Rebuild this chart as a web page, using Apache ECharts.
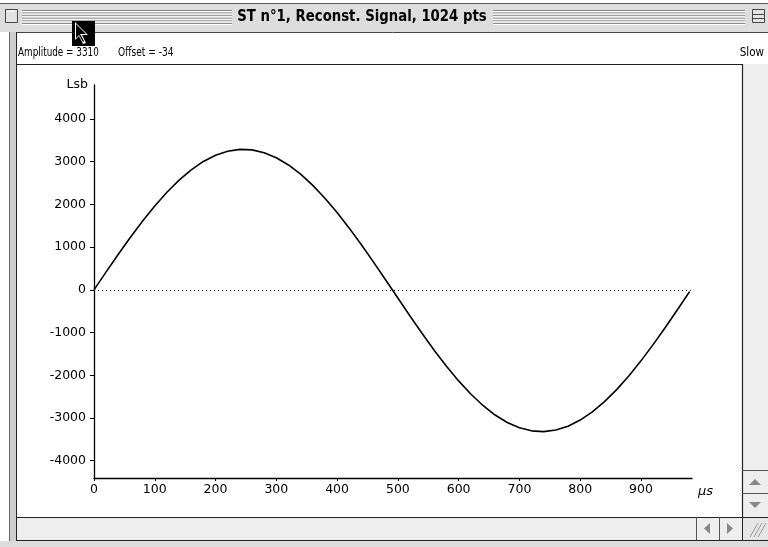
<!DOCTYPE html>
<html>
<head>
<meta charset="utf-8">
<script src="https://cdn.jsdelivr.net/npm/echarts@6/dist/echarts.min.js"></script>
<style>
html,body{margin:0;padding:0;background:#fff;}
#chart{width:768px;height:547px;}
</style>
</head>
<body>
<div id="chart"></div>
<script>
// ---- data ----
const timeUs = [0,20,40,60,80,100,120,140,160,180,200,220,240,260,280,300,320,340,360,380,
  400,420,440,460,480,500,520,540,560,580,600,620,640,660,680,700,720,740,760,780,
  800,820,840,860,880,900,920,940,960,980];
const signalLsb = [0,420,833,1232,1611,1964,2285,2568,2810,3005,3151,3246,3288,3276,3210,3092,2923,2707,2446,2144,
  1809,1444,1055,648,231,-191,-612,-1024,-1419,-1791,-2132,-2439,-2707,-2931,-3106,-3230,-3301,-3319,-3282,-3192,
  -3049,-2857,-2617,-2336,-2016,-1663,-1283,-882,-465,-42];
const xTickValues = [0,100,200,300,400,500,600,700,800,900];
const yTickValues = [-4000,-3000,-2000,-1000,0,1000,2000,3000,4000];
const zeroLineEnd = 982;
const titleText = 'ST n°1, Reconst. Signal, 1024 pts';
const amplitudeText = 'Amplitude = 3310';
const offsetText = 'Offset = -34';
const modeText = 'Slow';

const AX = '"DejaVu Sans", sans-serif';
const UI = '"DejaVu Sans", sans-serif';

// ---- window chrome (drawn with graphic elements) ----
const g = [];
function rect(x,y,w,h,fill,stroke,lw){g.push({type:'rect',shape:{x:x,y:y,width:w,height:h},style:{fill:fill||'none',stroke:stroke||null,lineWidth:lw||1},silent:true});}
function line(x1,y1,x2,y2,c,w){g.push({type:'line',shape:{x1:x1,y1:y1,x2:x2,y2:y2},style:{stroke:c,lineWidth:w||1},silent:true});}
function poly(pts,fill){g.push({type:'polygon',shape:{points:pts},style:{fill:fill},silent:true});}
function txt(x,y,t,font,align,va,sx){g.push({type:'text',x:x,y:y,scaleX:sx||1,originX:0,originY:0,style:{text:t,font:font,fill:'#000',textAlign:align||'left',textVerticalAlign:va||'middle'},silent:true});}

// title bar
rect(0,3,768,29,'#dddddd');
line(0,3.5,768,3.5,'#555',1);
for(let i=0;i<6;i++){
  const y=10.5+i*2.6;
  line(22,y,232,y,'#8a8a8a',1);
  line(22,y+1,232,y+1,'#ffffff',1);
  line(493,y,745,y,'#8a8a8a',1);
  line(493,y+1,745,y+1,'#ffffff',1);
}
rect(5.5,9.5,12,13,'#e4e4e4','#444',1);
line(7,11,15,11,'#fff',1);
rect(752.5,9.5,12,13,'#e4e4e4','#444',1);
line(753,14.5,764,14.5,'#444',1);
line(753,18.5,764,18.5,'#444',1);
txt(362,17,titleText,'bold 16px '+UI,'center','middle',0.83);

// window body frame
rect(9,32,8,509,'#cfcfcf');
line(9.5,32,9.5,541,'#666',1);
line(16.5,32,16.5,541,'#222',1);
rect(17,32,751,32,'#ffffff');
line(17,32.5,768,32.5,'#444',1);
line(17,64.5,742,64.5,'#222',1.2);
txt(18,53,amplitudeText,'13px '+UI,'left','middle',0.68);
txt(118,53,offsetText,'13px '+UI,'left','middle',0.7);
txt(764,53,modeText,'13px '+UI,'right','middle',0.8);

// right scrollbar
rect(742,64,26,453,'#eeeeee');
line(742.5,64,742.5,541,'#222',1.2);
line(742,470.5,768,470.5,'#555',1);
line(742,493.5,768,493.5,'#555',1);
poly([[749,485],[755,479],[761,485]],'#888');
poly([[749,502],[755,508],[761,502]],'#888');
// bottom scrollbar
rect(17,517,725,23,'#eeeeee');
line(17,517.5,768,517.5,'#222',1.2);
line(17,540.5,768,540.5,'#222',1.2);
line(696.5,517,696.5,540,'#555',1);
line(719.5,517,719.5,540,'#555',1);
poly([[710,523],[704,528.5],[710,534]],'#888');
poly([[727,523],[733,528.5],[727,534]],'#888');
// grow box
rect(743,518,25,22,'#e6e6e6');
for(let k=0;k<3;k++){
  line(750+k*4,537,758+k*4,523,'#999',1);
}
rect(0,541,768,6,'#dcdcdc');
// mouse cursor (drawn last, on top)
rect(72,21,23,25,'#000');
poly([[75,22],[75,40],[79,36],[83,44],[86,43],[82,35],[88,35]],'#fff');
poly([[76,24],[76,38],[79,35],[83,42],[84,41],[80,34],[86,34]],'#000');

const plain = v => String(v);

const chart = echarts.init(document.getElementById('chart'), null, {renderer:'canvas'});
chart.setOption({
  backgroundColor:'#ffffff',
  animation:false,
  graphic:{elements:g},
  grid:{left:94,right:76,top:85,bottom:69,containLabel:false},
  xAxis:{
    type:'value',min:0,max:984,
    name:'µs',nameLocation:'end',nameGap:6,
    nameTextStyle:{fontStyle:'italic',fontSize:13,fontFamily:AX,color:'#000',verticalAlign:'top',padding:[7,0,0,0]},
    axisLine:{onZero:false,lineStyle:{color:'#000',width:1.3}},
    axisTick:{show:true,customValues:xTickValues,length:3,lineStyle:{color:'#000',width:1}},
    axisLabel:{customValues:xTickValues,formatter:plain,color:'#000',fontSize:12.5,fontFamily:AX,margin:5},
    splitLine:{show:false}
  },
  yAxis:{
    type:'value',min:-4405,max:4795,
    name:'Lsb',nameLocation:'end',nameGap:0,
    nameTextStyle:{fontSize:12.5,fontFamily:AX,color:'#000',align:'right',verticalAlign:'middle',padding:[6,6,0,0]},
    axisLine:{onZero:false,lineStyle:{color:'#000',width:1.3}},
    axisTick:{show:true,customValues:yTickValues,length:4,lineStyle:{color:'#000',width:1}},
    axisLabel:{customValues:yTickValues,formatter:plain,color:'#000',fontSize:12.5,fontFamily:AX,margin:8},
    splitLine:{show:false}
  },
  series:[{
    type:'line',
    data:timeUs.map((t,i)=>[t,signalLsb[i]]),
    showSymbol:false,
    lineStyle:{color:'#000',width:1.6},
    markLine:{
      silent:true,symbol:'none',label:{show:false},
      lineStyle:{color:'#000',type:[1,3],width:1},
      data:[[{coord:[0,0]},{coord:[zeroLineEnd,0]}]]
    }
  }]
});
</script>
</body>
</html>
